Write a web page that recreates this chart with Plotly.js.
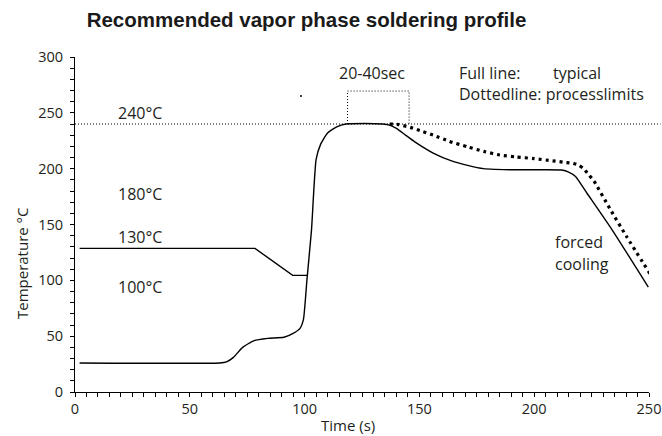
<!DOCTYPE html>
<html>
<head>
<meta charset="utf-8">
<script src="https://cdn.plot.ly/plotly-3.0.1.min.js"></script>
<style>html,body{margin:0;padding:0;background:#fff;}#chart{width:662px;height:436px;}</style>
</head>
<body>
<div id="chart"></div>
<script>
// Full line (typical profile)
const typicalTime = [2, 63, 66, 69, 73, 78, 84, 91, 95, 98, 99.5, 101, 103, 105, 107, 110, 114, 118, 126, 134, 137, 140, 144, 148, 156, 164, 171, 178, 183, 190, 200, 212, 215, 218, 223, 234, 249.7];
const typicalTemp = [26, 26, 27, 31, 40, 46, 48, 49, 52.5, 57, 65, 100, 145, 208, 222, 232, 237.5, 240, 240.5, 240, 239, 236, 230, 224, 214, 207, 203, 200, 199.4, 199, 199, 198.8, 197, 193, 178, 145, 94];
// Upper preheat line (130°C start)
const upperTime = [2, 78.4, 94.8, 101.2];
const upperTemp = [128.6, 128.6, 104.4, 104.4];
// Dotted line (process limits)
const limitTime = [137, 141, 146, 151, 156, 163, 171, 178, 185, 192, 200, 208, 214, 217, 219.5, 221.5, 224, 226, 233, 240.3, 250.4];
const limitTemp = [240, 239.5, 237, 233.5, 230, 224.5, 219.5, 215.5, 212.2, 210.5, 209, 207, 205.5, 204.7, 203, 200, 194, 189, 164, 139, 106];
// 20-40 sec bracket
const bracketTime = [118.7, 118.7, 145.5, 145.5];
const bracketTemp = [240, 269.5, 269.5, 240];
// stray dot
const dotTime = [98.4];
const dotTemp = [265];
// reference level
const peakLevel = 240;
// labels
const levelLabels = ['240°C', '180°C', '130°C', '100°C'];
const levelLabelY = [250, 177, 139, 94];

const F = 'Open Sans, Noto Sans, sans-serif';
const txt = '#231f20';
const AS = 16;

const traces = [
  {x: upperTime, y: upperTemp, mode: 'lines', line: {color: '#000', width: 1.4}, hoverinfo: 'none'},
  {x: typicalTime, y: typicalTemp, mode: 'lines', line: {color: '#000', width: 1.4, shape: 'spline', smoothing: 0.5}, hoverinfo: 'none'},
  {x: limitTime, y: limitTemp, mode: 'lines', line: {color: '#000', width: 3.2, dash: '3px,4px', shape: 'spline', smoothing: 0.5}, hoverinfo: 'none'},
  {x: bracketTime, y: bracketTemp, mode: 'lines', line: {color: '#000', width: 1, dash: '1px,2px'}, hoverinfo: 'none'},
  {x: dotTime, y: dotTemp, mode: 'markers', marker: {color: '#000', size: 2}, hoverinfo: 'none'}
];

const ann = levelLabels.map((t, i) => ({
  text: t, x: 18, y: levelLabelY[i], xref: 'x', yref: 'y', xanchor: 'left', yanchor: 'middle',
  showarrow: false, font: {family: F, size: AS, color: txt}
}));
ann.push(
  {text: '20-40sec', x: 129.4, y: 285.6, xref: 'x', yref: 'y', xanchor: 'center', yanchor: 'middle', showarrow: false, font: {family: F, size: AS, color: txt}},
  {text: 'Full line:', x: 166.5, y: 286, xref: 'x', yref: 'y', xanchor: 'left', yanchor: 'middle', showarrow: false, font: {family: F, size: AS, color: txt}},
  {text: 'typical', x: 207.5, y: 286, xref: 'x', yref: 'y', xanchor: 'left', yanchor: 'middle', showarrow: false, font: {family: F, size: AS, color: txt}},
  {text: 'Dottedline: processlimits', x: 166.5, y: 266.8, xref: 'x', yref: 'y', xanchor: 'left', yanchor: 'middle', showarrow: false, font: {family: F, size: AS, color: txt}},
  {text: 'forced', x: 208.3, y: 134, xref: 'x', yref: 'y', xanchor: 'left', yanchor: 'middle', showarrow: false, font: {family: F, size: AS, color: txt}},
  {text: 'cooling', x: 208.3, y: 115, xref: 'x', yref: 'y', xanchor: 'left', yanchor: 'middle', showarrow: false, font: {family: F, size: AS, color: txt}},
  {text: 'Temperature °C', textangle: -90, x: -(75 - 22) / 574, y: 115.5, xref: 'paper', yref: 'y', xanchor: 'center', yanchor: 'middle', showarrow: false, font: {family: F, size: 15, color: txt}},
  {text: 'Time (s)', x: 118.9, y: -(425 - 392) / 335, xref: 'x', yref: 'paper', xanchor: 'center', yanchor: 'middle', showarrow: false, font: {family: F, size: 15, color: txt}}
);

const layout = {
  width: 662, height: 436,
  margin: {l: 75, r: 13, t: 57, b: 44, pad: 0},
  paper_bgcolor: '#fff', plot_bgcolor: '#fff',
  showlegend: false,
  title: {text: '<b>Recommended vapor phase soldering profile</b>', x: 306.5/662, xanchor: 'center', xref: 'container',
          y: 1 - 20/436, yanchor: 'middle', yref: 'container',
          font: {family: 'Liberation Sans, Arial, sans-serif', size: 20.5, color: '#1a1a1a'}},
  xaxis: {
    range: [0, 250], showgrid: false, zeroline: false, showline: true, linecolor: '#000', linewidth: 1,
    ticks: 'outside', ticklen: 4, tickcolor: '#000', tickwidth: 1, dtick: 50, tick0: 0,
    minor: {dtick: 5, ticklen: 4, tickcolor: '#000', tickwidth: 1, ticks: 'outside', showgrid: false},
    tickfont: {family: F, size: 14.5, color: txt}
  },
  yaxis: {
    range: [0, 300], showgrid: false, zeroline: false, showline: true, linecolor: '#000', linewidth: 1,
    ticks: 'outside', ticklen: 4, tickcolor: '#000', tickwidth: 1, dtick: 50, tick0: 0,
    minor: {dtick: 10, ticklen: 4, tickcolor: '#000', tickwidth: 1, ticks: 'outside', showgrid: false},
    tickfont: {family: F, size: 14.5, color: txt}, ticklabelstandoff: 4
  },
  shapes: [
    {type: 'line', xref: 'paper', yref: 'y', x0: 0, x1: 1.02, y0: peakLevel, y1: peakLevel,
     line: {color: '#000', width: 1, dash: '1px,2px'}}
  ],
  annotations: ann
};

Plotly.newPlot('chart', traces, layout, {displayModeBar: false, staticPlot: true});
</script>
</body>
</html>
